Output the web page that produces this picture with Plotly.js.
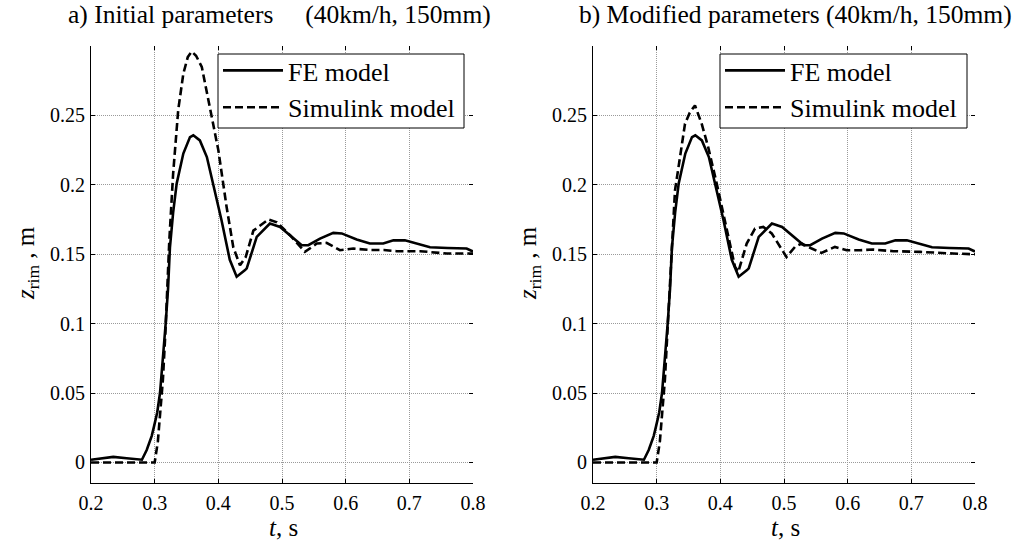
<!DOCTYPE html>
<html><head><meta charset="utf-8">
<script src="https://cdn.plot.ly/plotly-3.0.1.min.js"></script>
<style>html,body{margin:0;padding:0;background:#fff}#plot{width:1013px;height:542px}</style>
</head><body><div id="plot"></div>
<script>
// FE model (same in both panels)
const tFE = [0.2,0.214,0.235,0.256,0.272,0.28,0.2875,0.2953,0.299,0.304,0.3084,0.313,0.3173,0.321,0.324,0.329,0.3346,0.345,0.3555,0.3607,0.371,0.382,0.392,0.405,0.418,0.4288,0.442,0.4446,0.4603,0.481,0.497,0.5152,0.531,0.5413,0.5597,0.5806,0.5938,0.6173,0.638,0.659,0.675,0.693,0.7116,0.7325,0.76,0.79,0.8];
const zFE = [0.002,0.003,0.004,0.003,0.002,0.002,0.009,0.019,0.026,0.036,0.05,0.075,0.1,0.125,0.155,0.18,0.201,0.2225,0.2344,0.2357,0.232,0.22,0.201,0.1745,0.146,0.1338,0.1386,0.1398,0.1625,0.1721,0.1697,0.1625,0.1565,0.1565,0.1613,0.1654,0.165,0.1606,0.1577,0.1577,0.16,0.16,0.1577,0.155,0.1545,0.1541,0.152];
// Simulink model, initial parameters (a)
const tSimA = [0.2,0.3,0.305,0.309,0.313,0.317,0.32,0.323,0.329,0.337,0.345,0.352,0.358,0.365,0.374,0.387,0.4,0.413,0.4235,0.434,0.443,0.455,0.4785,0.492,0.5126,0.536,0.5546,0.57,0.591,0.612,0.64,0.66,0.68,0.717,0.759,0.8];
const zSimA = [0,0,0.015,0.035,0.06,0.095,0.13,0.16,0.208,0.254,0.28,0.292,0.296,0.293,0.285,0.256,0.225,0.184,0.155,0.142,0.148,0.167,0.175,0.173,0.1637,0.1517,0.1577,0.1582,0.1529,0.1541,0.153,0.153,0.1522,0.1522,0.1505,0.1505];
// Simulink model, modified parameters (b)
const tSimB = [0.2,0.3,0.305,0.309,0.313,0.317,0.321,0.3288,0.3367,0.3445,0.352,0.3602,0.3707,0.381,0.3943,0.41,0.423,0.4282,0.4414,0.4544,0.4675,0.4807,0.4937,0.504,0.5173,0.5278,0.5435,0.559,0.58,0.5985,0.619,0.64,0.672,0.714,0.766,0.8];
const zSimB = [0,0,0.015,0.035,0.06,0.095,0.129,0.196,0.22,0.244,0.252,0.2572,0.244,0.227,0.201,0.1673,0.141,0.1373,0.1577,0.1685,0.1697,0.165,0.1553,0.148,0.1553,0.1577,0.1541,0.151,0.1553,0.1529,0.1529,0.1534,0.1522,0.1517,0.1505,0.15];

const xTicks = [0.2,0.3,0.4,0.5,0.6,0.7,0.8];
const xTickText = ['0.2','0.3','0.4','0.5','0.6','0.7','0.8'];
const yTicks = [0,0.05,0.1,0.15,0.2,0.25];
const yTickText = ['0','0.05','0.1','0.15','0.2','0.25'];
const seriesNames = ['FE model','Simulink model'];
const panelTitles = ['a) Initial parameters \u00a0\u00a0\u00a0\u00a0(40km/h, 150mm)','b) Modified parameters (40km/h, 150mm)'];

const FONT = '"Liberation Serif", serif';
const solid = {color:'#000', width:2.6};
const dashed = {color:'#000', width:2.6, dash:'8px,4px'};

const traces = [
  {x:tFE, y:zFE, name:seriesNames[0], mode:'lines', line:solid, xaxis:'x', yaxis:'y', legend:'legend', legendgroup:'a1'},
  {x:tSimA, y:zSimA, name:seriesNames[1], mode:'lines', line:dashed, xaxis:'x', yaxis:'y', legend:'legend', legendgroup:'a2'},
  {x:tFE, y:zFE, name:seriesNames[0], mode:'lines', line:solid, xaxis:'x2', yaxis:'y2', legend:'legend2', legendgroup:'b1'},
  {x:tSimB, y:zSimB, name:seriesNames[1], mode:'lines', line:dashed, xaxis:'x2', yaxis:'y2', legend:'legend2', legendgroup:'b2'},
  // helper empty traces to show mirrored ticks on top/right
  {x:[], y:[], xaxis:'x3', yaxis:'y3', showlegend:false, hoverinfo:'skip'},
  {x:[], y:[], xaxis:'x4', yaxis:'y4', showlegend:false, hoverinfo:'skip'}
];

const W = 1013, H = 542;
const xr = [0.2,0.8], yr = [-0.015,0.3];
const yDom = [1-483.3/H, 1-46/H];
const dA = [91/W, 473/W], dB = [593/W, 975/W];
function xax(dom, anchor){
  return {domain:dom, anchor:anchor, range:xr, tickvals:xTicks, ticktext:xTickText, ticks:'inside', ticklen:4, tickcolor:'#000',
    showline:true, linecolor:'#000', linewidth:1, showgrid:true, gridcolor:'#9a9a9a', griddash:'1px,1px', gridwidth:1,
    zeroline:false, tickfont:{family:FONT, size:20, color:'#000'}, ticklabelstandoff:2, fixedrange:true};
}
function yax(anchor){
  return {domain:yDom, anchor:anchor, range:yr, tickvals:yTicks, ticktext:yTickText, ticks:'inside', ticklen:4, tickcolor:'#000',
    showline:true, linecolor:'#000', linewidth:1, showgrid:true, gridcolor:'#9a9a9a', griddash:'1px,1px', gridwidth:1,
    zeroline:false, tickfont:{family:FONT, size:20, color:'#000'}, ticklabelstandoff:1, fixedrange:true};
}
function mirrorX(over, anchor){
  return {overlaying:over, anchor:anchor, side:'top', range:xr, tickvals:xTicks, ticks:'inside', ticklen:4, tickcolor:'#000',
    showticklabels:false, showgrid:false, showline:false, zeroline:false};
}
function mirrorY(over, anchor){
  return {overlaying:over, anchor:anchor, side:'right', range:yr, tickvals:yTicks, ticks:'inside', ticklen:4, tickcolor:'#000',
    showticklabels:false, showgrid:false, showline:false, zeroline:false};
}
const legStyle = (x) => ({x:x, y:1-47/H, xanchor:'left', yanchor:'top', bgcolor:'rgba(0,0,0,0)', borderwidth:0,
  font:{family:FONT, size:26, color:'#000'}, traceorder:'grouped', tracegroupgap:0, itemwidth:60});
const legBox = (x0, x1) => ({type:'rect', xref:'paper', yref:'paper', x0:x0/W, x1:x1/W, y0:1-128/H, y1:1-54/H,
  line:{color:'#000', width:1}, fillcolor:'#fff', layer:'above'});

const ann = (text, x, y, size, extra) => Object.assign({text:text, x:x, y:y, xref:'paper', yref:'paper', showarrow:false,
  font:{family:FONT, size:size, color:'#000'}, xanchor:'center', yanchor:'middle'}, extra||{});

const layout = {
  width:W, height:H, margin:{l:0,r:0,t:0,b:0}, paper_bgcolor:'#fff', plot_bgcolor:'#fff', showlegend:true,
  xaxis:xax(dA,'y'), yaxis:yax('x'), xaxis2:xax(dB,'y2'), yaxis2:yax('x2'),
  xaxis3:Object.assign(mirrorX('x','y3'),{domain:dA}), yaxis3:Object.assign(mirrorY('y','x3'),{domain:yDom}),
  xaxis4:Object.assign(mirrorX('x2','y4'),{domain:dB}), yaxis4:Object.assign(mirrorY('y2','x4'),{domain:yDom}),
  legend:legStyle(218/W), legend2:legStyle(720/W),
  shapes:[legBox(218,464), legBox(720,967)],
  annotations:[
    ann(panelTitles[0], 279/W, 1-15/H, 25.5),
    ann(panelTitles[1], 795/W, 1-15/H, 25.5),
    ann('<i>t</i>, s', 283/W, 1-527/H, 25),
    ann('<i>t</i>, s', 785/W, 1-527/H, 25),
    ann('<i>z</i><sub>rim</sub> , m', 27/W, 1-263/H, 25, {textangle:-90}),
    ann('<i>z</i><sub>rim</sub> , m', 529/W, 1-263/H, 25, {textangle:-90})
  ]
};
Plotly.newPlot('plot', traces, layout, {displayModeBar:false, staticPlot:true});
</script></body></html>
